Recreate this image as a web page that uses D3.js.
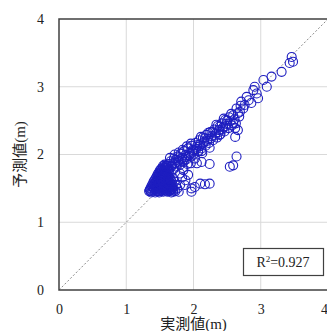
<!DOCTYPE html>
<html>
<head>
<meta charset="utf-8">
<script src="https://cdn.jsdelivr.net/npm/d3@7"></script>
<style>
  body { margin: 0; background: #fff; }
  text { font-family: "Liberation Serif", "Noto Sans CJK JP", serif; fill: #222; }
</style>
</head>
<body>
<svg id="Target" width="327" height="331"></svg>
<script>
const blobPts = [
  [1.34,1.46],[1.37,1.44],[1.40,1.47],[1.43,1.44],[1.46,1.46],[1.49,1.44],[1.52,1.46],[1.55,1.45],[1.58,1.47],[1.61,1.45],[1.64,1.46],[1.67,1.44],[1.70,1.47],
  [1.36,1.50],[1.39,1.52],[1.42,1.49],[1.45,1.51],[1.48,1.50],[1.51,1.52],[1.54,1.49],[1.57,1.51],[1.60,1.50],[1.63,1.52],[1.66,1.49],[1.69,1.51],
  [1.39,1.56],[1.42,1.58],[1.45,1.55],[1.48,1.57],[1.51,1.56],[1.54,1.58],[1.57,1.55],[1.60,1.57],[1.63,1.56],[1.66,1.58],[1.69,1.55],
  [1.42,1.62],[1.45,1.61],[1.48,1.63],[1.51,1.61],[1.54,1.63],[1.57,1.62],[1.60,1.64],[1.63,1.61],[1.66,1.63],
  [1.45,1.67],[1.48,1.69],[1.51,1.66],[1.54,1.68],[1.57,1.67],[1.60,1.69],[1.63,1.67],
  [1.48,1.73],[1.51,1.75],[1.54,1.72],[1.57,1.74],[1.60,1.73],[1.63,1.75],
  [1.52,1.79],[1.55,1.81],[1.58,1.78],[1.61,1.80],[1.64,1.79],
  [1.57,1.85],[1.60,1.84],[1.63,1.86],
  [1.73,1.46],[1.76,1.50],[1.78,1.45],[1.74,1.55],[1.72,1.60],[1.70,1.65]
];

const blobFill = [
  [1.35,1.48],[1.385,1.455],[1.415,1.485],[1.445,1.475],[1.475,1.455],[1.505,1.485],[1.535,1.475],[1.565,1.485],[1.595,1.465],[1.625,1.485],[1.655,1.475],[1.685,1.49],
  [1.375,1.535],[1.405,1.545],[1.435,1.53],[1.465,1.54],[1.495,1.535],[1.525,1.545],[1.555,1.53],[1.585,1.54],[1.615,1.535],[1.645,1.545],[1.675,1.53],
  [1.405,1.595],[1.435,1.59],[1.465,1.60],[1.495,1.585],[1.525,1.595],[1.555,1.60],[1.585,1.59],[1.615,1.60],[1.645,1.595],[1.675,1.60],
  [1.435,1.645],[1.465,1.65],[1.495,1.64],[1.525,1.65],[1.555,1.645],[1.585,1.655],[1.615,1.65],[1.645,1.655],
  [1.465,1.705],[1.495,1.71],[1.525,1.70],[1.555,1.705],[1.585,1.71],[1.615,1.705],[1.645,1.71],
  [1.50,1.765],[1.53,1.77],[1.56,1.76],[1.59,1.765],[1.62,1.77],[1.545,1.83],[1.585,1.825],[1.615,1.83],
  [1.36,1.465],[1.41,1.51],[1.47,1.52],[1.53,1.505],[1.59,1.52],[1.65,1.505],[1.44,1.565],[1.50,1.575],[1.56,1.57],[1.62,1.575],
  [1.47,1.625],[1.53,1.62],[1.59,1.63],[1.50,1.685],[1.56,1.69],[1.62,1.685],[1.53,1.74],[1.59,1.745],[1.57,1.80]
];

const bandPts = [
  [1.66,1.90],[1.68,1.84],[1.70,1.78],[1.71,1.94],[1.73,1.88],[1.75,1.82],[1.76,1.97],[1.78,1.91],[1.80,1.85],[1.81,2.01],
  [1.83,1.95],[1.85,1.89],[1.84,1.80],[1.86,2.05],[1.88,1.99],[1.90,1.93],[1.91,1.86],[1.92,2.09],[1.94,2.03],[1.96,1.97],
  [1.97,2.13],[1.99,2.07],[2.01,2.01],[2.02,1.94],[2.03,2.17],[2.05,2.11],[2.07,2.05],[2.08,2.21],[2.10,2.15],[2.12,2.09],
  [2.13,2.02],[2.14,2.25],[2.16,2.19],[2.18,2.13],[2.19,2.29],[2.21,2.23],[2.23,2.17],[2.24,2.10],[2.25,2.33],[2.27,2.27],
  [2.29,2.21],[2.31,2.37],[2.33,2.31],[2.35,2.25],[2.36,2.42],[2.38,2.36],[2.40,2.30],[2.42,2.46],[2.44,2.40],[2.46,2.34],
  [2.47,2.51],[2.49,2.45],[2.52,2.39],[2.53,2.55],[2.55,2.49],[2.57,2.43],[2.59,2.58],[2.61,2.52],[2.63,2.46],
  [1.69,1.87],[1.74,1.92],[1.79,1.96],[1.87,1.92],[1.93,1.98],[1.98,2.03],[2.04,2.08],[2.09,2.12],[2.15,2.17],[2.20,2.20],
  [2.26,2.24],[2.32,2.28],[2.37,2.33],[2.43,2.37],[2.48,2.42],[2.11,2.26],[2.22,2.32],[2.34,2.44],[2.45,2.53],[2.56,2.60],
  [1.67,1.82],[1.72,1.86],[1.77,1.89],[1.82,1.93],[1.89,1.96],[1.95,2.01],[2.00,2.06],[2.06,2.14],[2.17,2.24],[2.28,2.33],
  [2.39,2.41],[2.50,2.50],[1.65,1.95],[1.72,2.00],[1.78,2.03],[1.84,2.07],[1.90,2.12],[1.96,2.16]
];

const upperPts = [
  [2.62,2.39],[2.59,2.46],[2.66,2.61],[2.69,2.63],[2.71,2.78],[2.74,2.68],[2.70,2.72],[2.79,2.85],[2.86,2.76],[2.89,2.95],
  [2.91,3.00],[2.94,2.90],[2.96,2.83],[3.04,3.10],[3.09,3.00],[3.16,3.15],[3.31,3.22],[3.43,3.35],[3.46,3.44],[3.48,3.37],
  [2.64,2.68],[2.68,2.56],[2.76,2.73],[2.82,2.80]
];

const outlierPts = [
  [2.66,2.36],[2.62,2.26],[2.39,2.29],[2.64,1.97],[2.59,1.84],[2.54,1.82],[2.24,1.86],[2.12,2.05],[2.07,2.04],[2.12,1.89],
  [2.05,1.87],[1.96,1.87],[2.24,1.57],[2.17,1.56],[2.10,1.57],[2.02,1.52],[1.97,1.50],[1.87,1.55],[1.80,1.55],[1.70,1.45],
  [1.97,1.45],[1.80,1.72],[1.85,1.77],[1.92,1.70],[1.88,1.62],[1.83,1.66]
];

const tickVals = [0, 1, 2, 3, 4];
const r2Label = "0.927";

const svg = d3.select("#Target");
const x = d3.scaleLinear().domain([0, 4]).range([59, 328]);
const y = d3.scaleLinear().domain([0, 4]).range([290, 19]);

// grid
svg.append("g").selectAll("line.gx")
  .data(tickVals.slice(1, 4))
  .enter().append("line")
  .attr("x1", d => x(d)).attr("x2", d => x(d))
  .attr("y1", y(0)).attr("y2", y(4))
  .attr("stroke", "#d9d9d9").attr("stroke-width", 1);
svg.append("g").selectAll("line.gy")
  .data(tickVals.slice(1, 4))
  .enter().append("line")
  .attr("y1", d => y(d)).attr("y2", d => y(d))
  .attr("x1", x(0)).attr("x2", x(4))
  .attr("stroke", "#d9d9d9").attr("stroke-width", 1);

// 1:1 line
svg.append("line")
  .attr("x1", x(0)).attr("y1", y(0))
  .attr("x2", x(4)).attr("y2", y(4))
  .attr("stroke", "#8a8a8a").attr("stroke-width", 1)
  .attr("stroke-dasharray", "2,2");

// points
const allPts = blobPts.concat(blobFill, bandPts, upperPts, outlierPts);
svg.append("g").selectAll("circle")
  .data(allPts)
  .enter().append("circle")
  .attr("cx", d => x(d[0]))
  .attr("cy", d => y(d[1]))
  .attr("r", 4.5)
  .attr("fill", "none")
  .attr("stroke", "#1e1ec0")
  .attr("stroke-width", 1.1);

// frame
svg.append("rect")
  .attr("x", x(0)).attr("y", y(4))
  .attr("width", x(4) - x(0)).attr("height", y(0) - y(4))
  .attr("fill", "none").attr("stroke", "#404040").attr("stroke-width", 1.5);

// axes
const xAxis = svg.append("g")
  .attr("transform", `translate(0,${y(0)})`)
  .call(d3.axisBottom(x).tickValues(tickVals).tickFormat(d3.format("d")).tickSize(0).tickPadding(14));
const yAxis = svg.append("g")
  .attr("transform", `translate(${x(0)},0)`)
  .call(d3.axisLeft(y).tickValues(tickVals).tickFormat(d3.format("d")).tickSize(0).tickPadding(15));
[xAxis, yAxis].forEach(g => {
  g.select(".domain").remove();
  g.selectAll("text")
    .style("font-family", "'Liberation Serif', serif")
    .style("font-size", "14px")
    .attr("fill", "#222");
});
// keep the last x label inside the window
xAxis.selectAll("text").filter(d => d === 4).attr("dx", -4);

// titles
svg.append("text")
  .attr("x", x(2)).attr("y", 329)
  .attr("text-anchor", "middle")
  .style("font-size", "15px")
  .text("実測値(m)");
svg.append("text")
  .attr("transform", `translate(25,${y(2)}) rotate(-90)`)
  .attr("text-anchor", "middle")
  .style("font-size", "15px")
  .text("予測値(m)");

// R² box
svg.append("rect")
  .attr("x", 243.5).attr("y", 248.5)
  .attr("width", 80).attr("height", 27)
  .attr("fill", "#fff").attr("stroke", "#404040").attr("stroke-width", 1.2);
const rt = svg.append("text")
  .attr("x", 283).attr("y", 267)
  .attr("text-anchor", "middle")
  .style("font-size", "14px");
rt.append("tspan").text("R");
rt.append("tspan").attr("dy", -5).style("font-size", "9px").text("2");
rt.append("tspan").attr("dy", 5).text("=" + r2Label);
</script>
</body>
</html>
